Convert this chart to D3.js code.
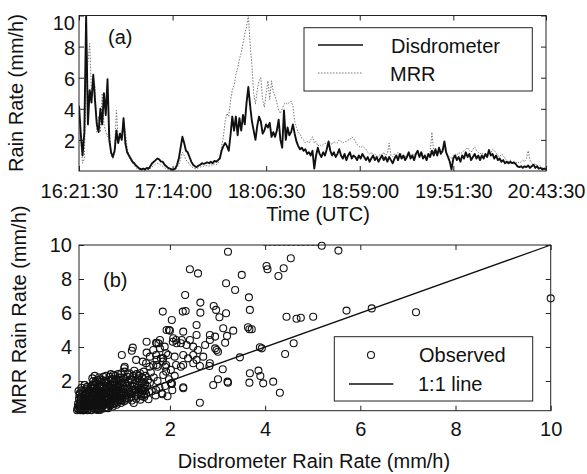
<!DOCTYPE html>
<html>
<head>
<meta charset="utf-8">
<script src="https://cdnjs.cloudflare.com/ajax/libs/d3/7.8.5/d3.min.js"></script>
<style>
body { margin: 0; background: #fff; }
text { font-family: "Liberation Sans", Arial, sans-serif; font-size: 20px; fill: #111; }
</style>
</head>
<body>
<div id="chart"></div>
<script>
// ---- data ----
// (a) one sample per minute starting 16:21:30
var startTime = "16:21:30";
var timeTicks = ["16:21:30", "17:14:00", "18:06:30", "18:59:00", "19:51:30", "20:43:30"];
var rateTicks = [2, 4, 6, 8, 10];

var disdrometer = [
  4.2,2.4,1.0,2.5,10.0,3.0,5.2,4.4,6.2,4.5,
  3.0,2.5,4.0,3.0,5.0,3.6,5.9,2.0,1.2,0.9,
  1.3,2.6,1.8,2.4,2.0,3.4,1.8,1.2,1.0,0.8,
  0.6,0.5,0.35,0.25,0.15,0.1,0.15,0.1,0.2,0.15,
  0.3,0.5,0.6,0.7,0.8,0.75,0.6,0.6,0.4,0.3,
  0.2,0.15,0.1,0.1,0.15,0.4,0.8,1.5,2.2,1.8,
  1.3,1.2,0.9,0.6,0.4,0.3,0.25,0.35,0.4,0.5,
  0.45,0.5,0.55,0.5,0.6,0.5,0.65,0.6,0.7,0.8,
  1.3,1.6,1.8,1.6,1.3,2.3,3.5,2.6,3.5,2.3,
  3.4,2.6,3.6,3.0,4.4,5.4,4.2,3.2,2.6,2.0,
  2.9,3.5,3.2,2.4,2.6,3.0,2.8,3.1,2.2,2.5,
  2.2,2.6,3.3,2.0,1.5,3.9,2.0,2.8,2.3,2.5,
  3.0,2.4,1.9,1.6,1.4,1.5,1.3,1.4,1.1,1.2,
  1.0,1.3,0.15,1.0,1.5,1.1,0.9,1.2,1.0,1.4,
  1.9,1.3,1.0,1.2,0.9,1.1,1.4,1.0,0.8,1.1,
  0.7,1.0,1.2,0.8,1.0,0.9,0.7,1.0,0.8,1.1,
  0.9,0.7,0.9,0.6,0.8,1.0,0.7,0.9,0.6,0.8,
  1.0,0.7,0.9,0.6,0.9,0.7,0.5,0.8,1.0,0.7,
  1.1,0.8,1.0,0.7,0.9,1.2,0.8,1.0,0.7,1.1,
  1.3,0.9,1.2,0.8,1.0,0.7,1.1,0.9,1.3,1.0,
  1.4,1.0,1.5,1.1,1.3,1.9,1.2,0.9,0.6,0.1,
  0.8,1.0,0.7,0.9,0.6,1.0,0.8,1.2,0.9,1.1,
  0.7,0.9,1.1,0.8,1.0,0.7,1.0,0.8,1.1,0.9,
  1.35,1.0,1.1,0.8,1.0,0.7,0.8,0.6,0.7,0.5,
  0.6,0.5,0.6,0.5,0.55,0.45,0.3,0.25,0.3,0.2,
  0.3,0.25,0.35,0.2,0.3,0.4,0.2,0.3,0.15,0.2,
  0.1,0.15,0.1
];

var mrr = [
  4.0,2.0,0.5,0.8,5.5,7.0,8.2,5.0,6.0,5.5,
  2.5,3.5,2.5,5.0,3.0,2.5,2.2,2.8,1.0,0.8,
  1.5,3.9,2.0,2.5,2.2,3.2,2.5,1.5,1.0,0.7,
  0.5,0.35,0.2,0.15,0.1,0.05,0.1,0.05,0.1,0.1,
  0.15,0.25,0.35,0.45,0.5,0.45,0.35,0.3,0.2,0.15,
  0.1,0.05,0.05,0.1,0.1,0.2,0.4,0.8,1.2,1.0,
  0.7,0.6,0.4,0.3,0.2,0.15,0.15,0.2,0.25,0.3,
  0.3,0.35,0.35,0.3,0.4,0.35,0.45,0.4,0.5,0.8,
  1.6,2.2,3.2,3.7,3.5,4.5,5.2,5.5,6.2,6.6,
  7.2,7.6,8.2,8.8,9.3,10.0,8.2,6.8,5.0,4.3,
  5.2,5.8,6.0,4.6,4.1,5.0,5.8,4.6,5.8,5.1,
  4.8,4.4,3.9,3.7,4.0,4.3,4.4,4.3,4.4,4.5,
  4.2,3.2,2.8,2.5,2.4,2.1,2.0,1.8,1.9,1.8,
  2.0,2.2,1.8,1.9,1.6,1.7,1.6,1.7,1.8,1.7,
  1.6,1.8,1.7,1.9,1.8,1.8,2.0,1.9,1.8,1.9,
  1.9,2.0,2.0,2.2,2.1,1.9,1.7,1.6,1.5,1.6,
  1.5,1.4,1.2,1.1,1.2,1.0,1.1,1.0,0.9,1.1,
  1.0,1.2,1.0,1.1,1.8,1.0,0.9,1.1,1.0,1.2,
  1.0,1.1,1.0,0.9,1.1,1.2,1.0,1.1,1.0,1.2,
  1.1,1.0,1.2,1.1,1.0,1.1,1.0,1.2,2.5,1.2,
  1.1,1.3,1.2,1.4,1.3,1.5,1.2,1.0,0.9,0.8,
  1.0,1.1,1.0,1.2,1.1,1.2,1.3,1.4,1.5,1.3,
  1.2,1.4,1.55,1.3,1.2,1.1,1.2,1.0,1.1,1.0,
  1.3,1.1,1.4,1.3,1.2,1.0,0.9,1.1,1.0,0.8,
  0.7,0.6,0.7,0.5,0.6,0.5,0.6,0.5,0.6,0.7,
  0.6,0.8,1.3,0.7,0.5,0.4,0.5,0.3,0.4,0.3,
  0.2,0.2,0.15
];

// (b) observed pairs [disdrometer, MRR]
var observed = [
  // dense bit near the origin
  [0.08,0.30],[0.10,0.45],[0.12,0.28],[0.14,0.60],[0.15,0.35],[0.17,0.80],[0.18,0.50],[0.20,0.30],
  [0.21,1.00],[0.22,0.65],[0.24,0.42],[0.25,1.30],[0.26,0.85],[0.27,0.55],[0.28,0.30],[0.29,1.10],
  [0.11,0.75],[0.13,1.05],[0.16,1.25],[0.19,0.40],[0.23,0.95],[0.09,0.55],[0.21,1.76],[0.11,1.27],
  [0.30,0.70],[0.06,0.40],[0.18,0.27],[0.26,0.28],[0.14,0.95],[0.24,1.55],[0.12,0.35],[0.20,0.62],
  [0.07,0.65],[0.09,0.95],[0.10,1.15],[0.13,0.50],[0.15,1.45],[0.16,0.30],[0.18,1.10],[0.19,0.75],
  [0.22,1.20],[0.23,0.35],[0.25,0.70],[0.27,1.45],[0.28,0.90],[0.30,1.25],[0.32,0.55],[0.34,1.05],
  [0.05,0.28],[0.12,0.85],[0.17,0.55],[0.26,1.65],[0.29,0.45],[0.33,1.60],[0.08,1.40],[0.14,1.60],
  [0.31,0.45],[0.32,1.40],[0.33,0.90],[0.34,0.30],[0.35,1.70],[0.36,0.60],[0.37,1.15],[0.38,0.40],
  [0.39,2.00],[0.40,0.80],[0.41,1.30],[0.42,0.55],[0.43,1.60],[0.44,0.35],[0.45,1.00],[0.46,1.85],
  [0.47,0.70],[0.48,1.25],[0.49,0.45],[0.50,1.50],[0.51,2.20],[0.52,0.95],[0.53,0.60],[0.54,1.75],
  [0.55,1.10],[0.56,0.40],[0.57,1.40],[0.58,2.05],[0.59,0.80],[0.60,1.20],[0.33,0.65],[0.36,1.00],
  [0.40,1.55],[0.44,0.85],[0.47,1.45],[0.52,1.30],[0.55,0.75],[0.58,1.60],[0.35,0.28],[0.42,2.30],
  [0.50,0.30],[0.38,0.75],[0.46,0.50],[0.54,0.50],[0.31,1.10],[0.49,1.05],[0.57,0.95],
  [0.36,1.35],[0.37,0.50],[0.38,1.80],[0.39,0.95],[0.41,0.65],[0.42,1.20],[0.43,0.40],[0.44,1.95],
  [0.45,1.35],[0.46,0.30],[0.47,1.10],[0.48,2.05],[0.49,0.80],[0.50,1.20],[0.51,0.55],[0.52,1.65],
  [0.53,1.40],[0.54,0.30],[0.55,1.95],[0.56,0.85],[0.57,1.70],[0.58,0.55],[0.59,1.35],[0.60,2.25],
  [0.61,0.95],[0.62,1.25],[0.63,0.40],[0.64,2.00],[0.65,1.10],[0.66,1.60],[0.67,0.70],[0.68,1.90],
  [0.69,1.00],[0.70,1.40],[0.41,1.75],[0.45,0.60],[0.53,2.10],[0.37,2.15],[0.60,0.60],[0.66,0.45],
  [0.61,0.55],[0.62,1.90],[0.63,1.00],[0.64,1.45],[0.65,0.70],[0.66,2.30],[0.67,1.20],[0.68,0.45],
  [0.69,1.65],[0.70,0.90],[0.71,2.05],[0.72,1.35],[0.73,0.60],[0.74,1.80],[0.75,1.10],[0.76,2.40],
  [0.77,0.80],[0.78,1.55],[0.79,1.00],[0.80,2.10],[0.81,1.30],[0.82,0.65],[0.83,1.75],[0.84,1.15],
  [0.85,2.30],[0.86,0.90],[0.87,1.50],[0.88,1.95],[0.89,1.20],[0.90,0.75],[0.91,1.65],[0.92,2.20],
  [0.93,1.05],[0.94,1.40],[0.95,0.85],[0.96,1.85],[0.97,1.25],[0.98,2.45],[0.99,1.55],[1.00,1.00],
  [0.64,0.85],[0.68,1.05],[0.72,1.70],[0.77,1.30],[0.81,0.95],[0.86,1.35],[0.90,1.50],[0.95,1.15],
  [0.70,0.40],[0.80,0.50],[0.88,0.60],[0.97,0.70],[0.75,1.60],[0.84,1.60],[0.93,1.75],
  [0.71,0.65],[0.72,1.00],[0.73,2.25],[0.74,1.25],[0.75,0.55],[0.76,1.75],[0.77,2.10],[0.78,0.95],
  [0.79,1.45],[0.80,1.75],[0.81,2.35],[0.82,1.10],[0.83,0.80],[0.84,1.95],[0.85,1.45],[0.86,0.70],
  [0.87,2.10],[0.88,1.30],[0.89,1.80],[0.90,1.05],[0.91,2.40],[0.92,0.90],[0.93,1.45],[0.94,2.05],
  [0.95,1.60],[0.96,0.95],[0.97,2.20],[0.98,1.30],[0.99,0.85],[1.00,1.90],[1.01,1.15],[1.03,2.15],
  [1.05,1.55],[1.07,0.90],[1.09,1.70],[1.11,2.40],[1.13,1.25],
  [1.02,1.35],[1.04,0.80],[1.06,1.90],[1.08,1.15],[1.10,2.25],[1.12,1.55],[1.14,0.95],[1.16,1.75],
  [1.18,1.25],[1.20,2.05],[1.22,1.45],[1.24,0.70],[1.26,1.85],[1.28,1.10],[1.30,2.40],[1.32,1.60],
  [1.34,1.30],[1.36,1.95],[1.38,0.90],[1.40,1.70],[1.42,2.20],[1.44,1.40],[1.46,1.05],[1.48,1.80],
  [1.50,1.25],[1.05,2.55],[1.15,2.45],[1.25,2.60],[1.35,2.30],[1.45,2.55],[1.10,1.00],[1.20,0.85],
  [1.30,1.20],[1.40,1.10],[1.12,1.95],[1.27,1.50],[1.43,1.60],
  [1.15,1.45],[1.17,2.10],[1.19,1.05],[1.21,1.70],[1.23,2.30],[1.25,1.30],[1.27,2.05],[1.29,0.95],
  [1.31,1.75],[1.33,2.15],[1.35,1.45],[1.37,2.45],[1.39,1.20],[1.41,1.90],[1.45,2.10],[1.47,1.55],
  [1.49,2.30],[1.52,1.70],[1.54,2.05],[1.56,1.35],
  [1.55,0.92],[1.58,1.90],[1.62,1.40],[1.66,2.20],[1.70,1.15],[1.71,1.47],[1.74,2.00],[1.78,1.60],
  [1.83,1.27],[1.86,2.35],[1.90,1.70],[1.95,1.10],[1.98,2.10],[2.02,1.86],[2.05,1.45],[1.39,1.47],
  [1.46,1.18],[2.10,2.30],[1.60,2.50],[1.92,2.55],
  // band above the 1:1 line
  [1.04,2.75],[1.29,3.24],[1.43,3.14],[1.50,3.04],[1.57,2.84],[1.65,2.94],[1.74,2.84],[1.85,3.14],
  [1.92,2.94],[2.02,2.65],[2.13,2.94],[2.23,2.84],[1.71,3.53],[1.81,3.33],[1.92,3.63],[1.20,3.78],
  [1.51,3.67],[1.76,4.22],[1.71,4.25],[2.06,4.31],[2.13,4.41],[2.23,4.22],[0.99,3.53],[1.22,3.96],
  [1.51,4.31],[1.05,2.84],[0.21,1.76],[0.11,1.27],[2.28,1.57],[2.04,1.86],[1.84,1.22],[2.63,0.72],
  [2.91,1.76],[3.21,1.96],[3.01,2.10],[3.22,1.90],
  [1.72,4.22],[1.79,4.41],[1.65,3.82],[1.89,4.02],[2.07,4.51],[2.14,4.22],[2.25,4.41],[2.35,4.12],
  [2.42,4.41],[2.49,4.02],[2.59,3.82],[2.74,4.12],[2.84,4.41],[2.95,3.92],[3.01,3.72],[2.98,3.82],
  [2.28,3.53],[1.96,3.53],[2.49,3.53],[2.70,3.43],[2.10,3.43],[1.86,3.33],[2.38,3.33],[2.56,3.24],
  [2.84,3.04],[2.28,2.94],[2.49,3.04],[2.63,2.88],[2.83,2.88],[1.72,3.24],[1.58,3.43],[1.79,3.92],
  // scattered ones
  [3.89,3.98],[4.60,4.22],[4.42,3.59],[3.47,3.39],[3.11,2.69],[3.68,2.45],[3.86,2.61],[3.90,2.29],
  [3.67,1.90],[4.17,1.96],[3.96,1.86],[4.31,1.31],[3.93,3.92],[2.28,1.63],[2.04,1.82],[1.72,2.94],
  [1.90,2.84],
  [3.22,9.60],[2.42,8.57],[2.59,8.33],[3.51,8.24],[4.03,8.76],[4.05,8.57],[4.28,8.18],[4.39,8.63],
  [4.54,9.22],[3.18,7.75],[3.37,7.35],[2.32,7.06],[3.66,6.92],[2.64,6.61],[2.92,6.41],[1.85,6.08],
  [2.33,6.12],[2.64,6.02],[2.97,6.18],[3.18,5.98],[3.68,6.18],[2.04,5.59],[3.04,5.75],[2.56,5.29],
  [4.45,5.78],[4.66,5.66],[1.93,5.00],[1.98,5.00],[2.28,4.90],[3.12,5.10],[3.33,4.96],[3.64,5.16],
  [3.67,5.04],[3.72,5.04],[2.56,4.70],[2.95,4.61],[3.20,4.65],[3.16,4.25],[2.84,4.70],[4.75,5.72],
  [5.01,5.78],[5.71,6.14],[6.24,6.27],[7.17,6.04],[10.0,6.86],[5.19,9.96],[5.54,9.67],[2.27,6.08],
  [2.00,4.96],
  // MRR above 10, only the bottom of the marker shows
  [4.00,10.2],[4.10,10.2],[4.20,10.2],[4.30,10.2],[4.40,10.2],[4.50,10.2],[4.60,10.2],[4.70,10.2],
  [4.80,10.2],[4.90,10.2],[5.00,10.2],[5.10,10.2]
];
var scatterTicks = [2, 4, 6, 8, 10];
var oneToOne = [0.25, 10];

// ---- svg ----
var svgWidth = 587;
var svgHeight = 474;
var svg = d3.select("#chart").append("svg")
    .attr("width", svgWidth)
    .attr("height", svgHeight);

// panel boxes
var boxA = {left: 79, right: 546, top: 15.5, bottom: 171};
var boxB = {left: 79, right: 550.7, top: 245, bottom: 410.7};

var parseTime = d3.timeParse("%H:%M:%S");
var t0 = parseTime(startTime);

// scales
var xTime = d3.scaleTime()
    .domain([parseTime(timeTicks[0]), parseTime(timeTicks[timeTicks.length - 1])])
    .range([boxA.left, boxA.right]);
var yRate = d3.scaleLinear().domain([0, 10]).range([boxA.bottom, boxA.top]);
var xDis = d3.scaleLinear().domain([0.09, 10]).range([boxB.left, boxB.right]);
var yMrr = d3.scaleLinear().domain([0.25, 10]).range([boxB.bottom, boxB.top]);

// helper for the matlab style inside ticks on all four sides
function drawFrame(box, xs, ys, xAxisGen, yAxisGen, xTickVals, yTickVals) {
  var g = svg.append("g");
  var bottom = g.append("g").attr("transform", `translate(0, ${box.bottom})`).call(xAxisGen);
  var left = g.append("g").attr("transform", `translate(${box.left}, 0)`).call(yAxisGen);
  g.append("g").attr("transform", `translate(0, ${box.top})`)
    .call(d3.axisTop(xs).tickValues(xTickVals).tickSize(-5).tickFormat(""));
  g.append("g").attr("transform", `translate(${box.right}, 0)`)
    .call(d3.axisRight(ys).tickValues(yTickVals).tickSize(-5).tickFormat(""));
  g.selectAll(".domain").remove();
  g.selectAll(".tick line").attr("stroke", "#222");
  g.selectAll(".tick text").style("font-size", "20px").attr("fill", "#111");
  g.append("rect")
    .attr("x", box.left).attr("y", box.top)
    .attr("width", box.right - box.left).attr("height", box.bottom - box.top)
    .attr("fill", "none").attr("stroke", "#222").attr("stroke-width", 1);
  return {bottom: bottom, left: left};
}

// ===== panel (a) =====
svg.append("clipPath").attr("id", "clipA")
  .append("rect")
  .attr("x", boxA.left).attr("y", boxA.top)
  .attr("width", boxA.right - boxA.left).attr("height", boxA.bottom - boxA.top);

var lineA = function(vals) {
  return d3.line()
    .x((d, i) => xTime(d3.timeMinute.offset(t0, i)))
    .y(d => yRate(d))(vals);
};

svg.append("path")
  .attr("d", lineA(mrr))
  .attr("clip-path", "url(#clipA)")
  .attr("fill", "none")
  .attr("stroke", "#777")
  .attr("stroke-width", 1)
  .attr("stroke-dasharray", "1.5,1.5");

svg.append("path")
  .attr("d", lineA(disdrometer))
  .attr("clip-path", "url(#clipA)")
  .attr("fill", "none")
  .attr("stroke", "#111")
  .attr("stroke-width", 1.9)
  .attr("stroke-linejoin", "round");

var axesA = drawFrame(boxA, xTime, yRate,
  d3.axisBottom(xTime).tickValues(timeTicks.map(parseTime)).tickFormat(d3.timeFormat("%H:%M:%S")).tickSize(-5).tickPadding(13),
  d3.axisLeft(yRate).tickValues(rateTicks).tickSize(-5).tickPadding(4),
  timeTicks.map(parseTime), rateTicks);
axesA.left.selectAll(".tick text").attr("dy", "0.4em");
// the "10" label sits a bit lower than its tick
axesA.left.selectAll(".tick").filter(d => d === 10).select("text").attr("y", 6);

svg.append("text").attr("x", 108).attr("y", 44).text("(a)");

// legend (a)
var legA = svg.append("g");
legA.append("rect").attr("x", 304).attr("y", 27.7).attr("width", 228.3).attr("height", 63.3)
  .attr("fill", "#fff").attr("stroke", "#222");
legA.append("line").attr("x1", 318).attr("x2", 363).attr("y1", 45).attr("y2", 45)
  .attr("stroke", "#111").attr("stroke-width", 1.6);
legA.append("line").attr("x1", 318).attr("x2", 363).attr("y1", 73).attr("y2", 73)
  .attr("stroke", "#777").attr("stroke-width", 1).attr("stroke-dasharray", "1.5,1.5");
legA.append("text").attr("x", 391).attr("y", 53).text("Disdrometer");
legA.append("text").attr("x", 390).attr("y", 81).text("MRR");

// axis titles (a)
svg.append("text")
  .attr("x", 318).attr("y", 221)
  .attr("text-anchor", "middle")
  .text("Time (UTC)");
svg.append("text")
  .attr("transform", "translate(23, 93) rotate(-90)")
  .attr("text-anchor", "middle")
  .text("Rain Rate (mm/h)");

// ===== panel (b) =====
svg.append("clipPath").attr("id", "clipB")
  .append("rect")
  .attr("x", boxB.left).attr("y", boxB.top)
  .attr("width", boxB.right - boxB.left).attr("height", boxB.bottom - boxB.top);

svg.append("g")
  .selectAll("circle")
  .data(observed)
  .enter()
  .append("circle")
  .attr("cx", d => xDis(d[0]))
  .attr("cy", d => yMrr(d[1]))
  .attr("r", 3.5)
  .attr("clip-path", d => d[1] > 10 ? "url(#clipB)" : null)
  .attr("fill", "none")
  .attr("stroke", "#111")
  .attr("stroke-width", 1.1);

svg.append("line")
  .attr("x1", xDis(oneToOne[0])).attr("y1", yMrr(oneToOne[0]))
  .attr("x2", xDis(oneToOne[1])).attr("y2", yMrr(oneToOne[1]))
  .attr("stroke", "#111")
  .attr("stroke-width", 1.3);

drawFrame(boxB, xDis, yMrr,
  d3.axisBottom(xDis).tickValues(scatterTicks).tickSize(-5).tickPadding(11),
  d3.axisLeft(yMrr).tickValues(scatterTicks).tickSize(-5).tickPadding(7),
  scatterTicks, scatterTicks);

svg.append("text").attr("x", 103).attr("y", 287).text("(b)");

// legend (b)
var legB = svg.append("g");
legB.append("rect").attr("x", 334.3).attr("y", 336.7).attr("width", 198.4).attr("height", 64.3)
  .attr("fill", "#fff").attr("stroke", "#222");
legB.append("circle").attr("cx", 371).attr("cy", 355).attr("r", 3.5)
  .attr("fill", "none").attr("stroke", "#111").attr("stroke-width", 1.1);
legB.append("line").attr("x1", 349).attr("x2", 393.3).attr("y1", 384).attr("y2", 384)
  .attr("stroke", "#111").attr("stroke-width", 1.3);
legB.append("text").attr("x", 419).attr("y", 361.7).text("Observed");
legB.append("text").attr("x", 418).attr("y", 390.5).text("1:1 line");

// axis titles (b)
svg.append("text")
  .attr("x", 314).attr("y", 468)
  .attr("text-anchor", "middle")
  .text("Disdrometer Rain Rate (mm/h)");
svg.append("text")
  .attr("transform", "translate(26, 310) rotate(-90)")
  .attr("text-anchor", "middle")
  .text("MRR Rain Rate (mm/h)");
</script>
</body>
</html>
